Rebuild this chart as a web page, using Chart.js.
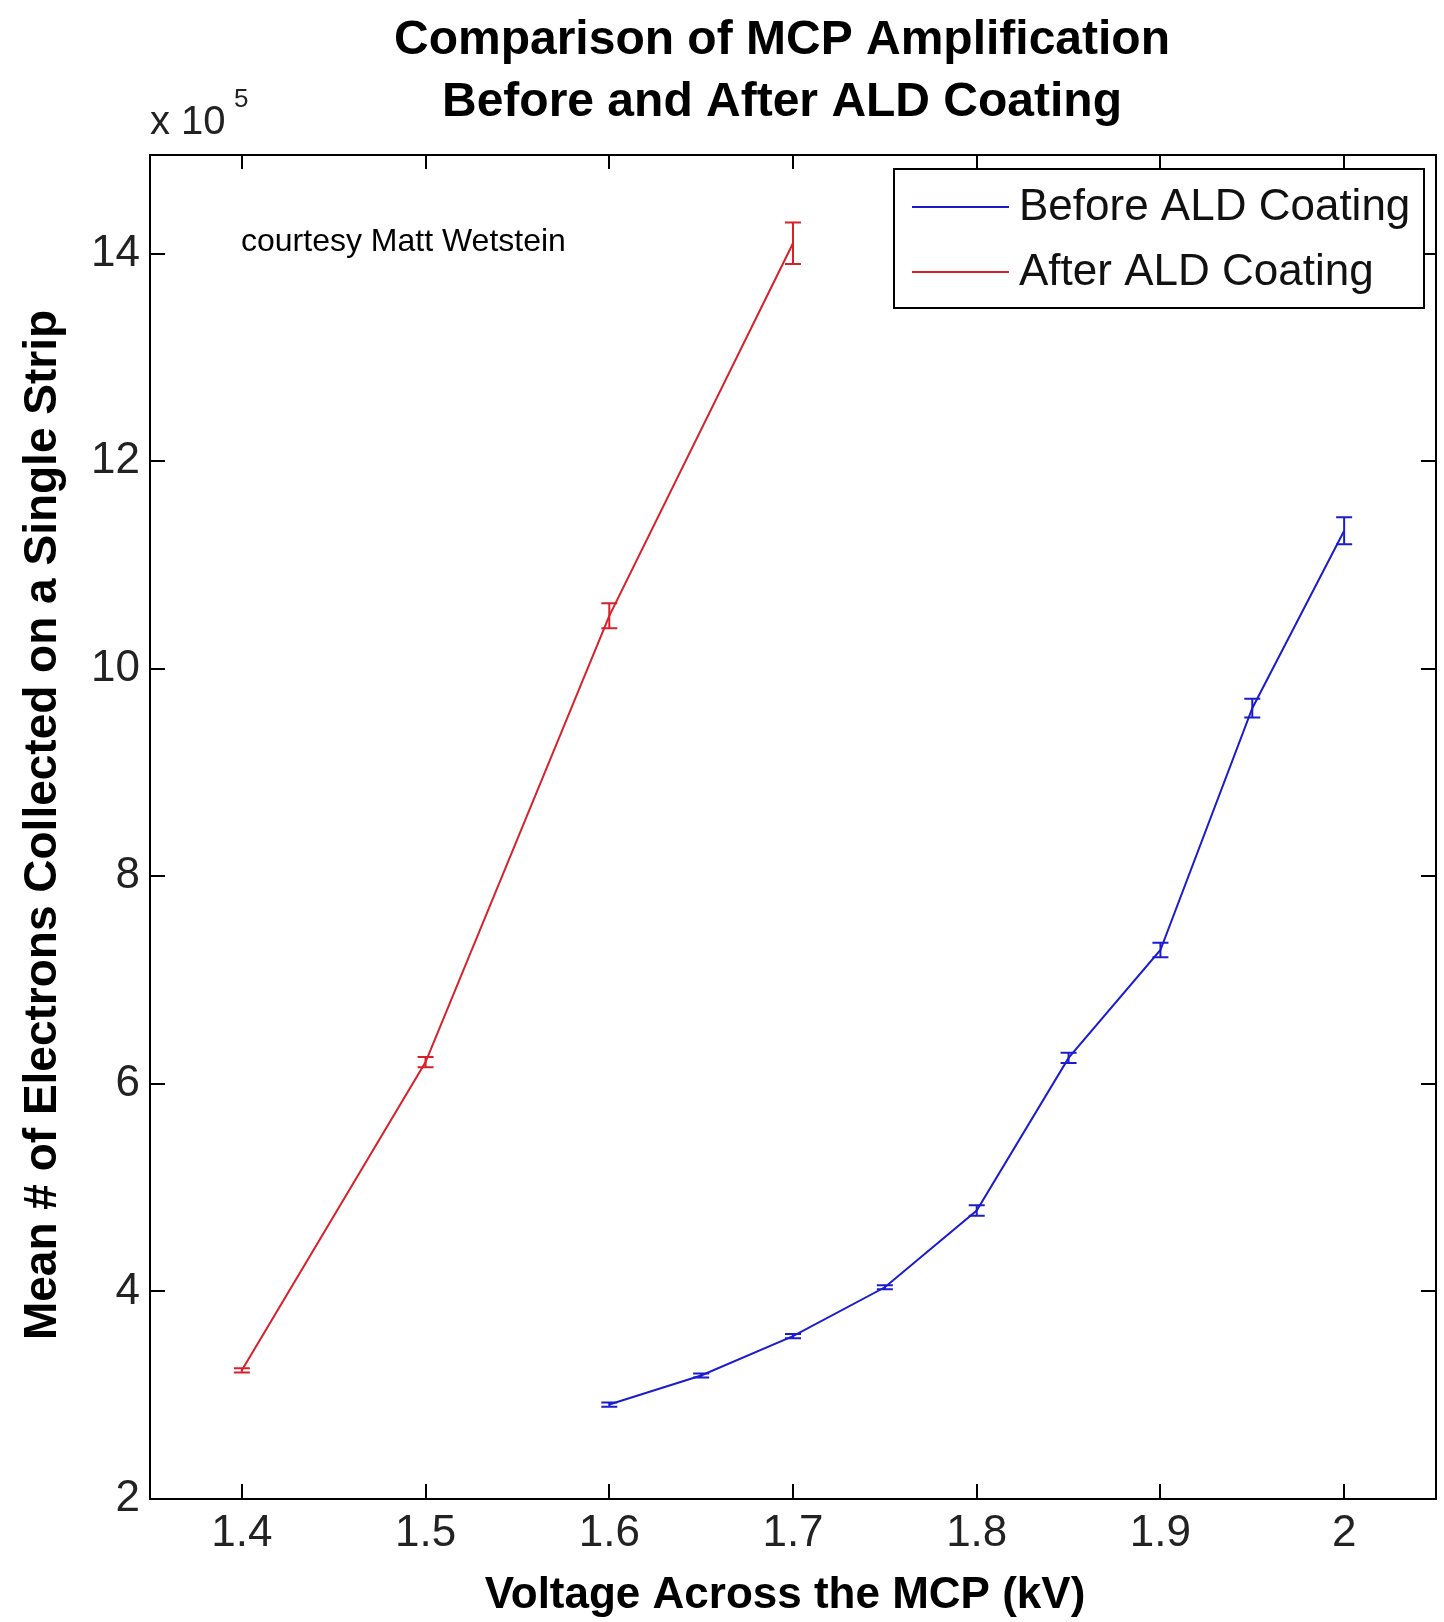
<!DOCTYPE html>
<html><head><meta charset="utf-8">
<script src="https://cdn.jsdelivr.net/npm/chart.js@4/dist/chart.umd.min.js"></script>
<style>html,body{margin:0;padding:0;background:#fff;overflow:hidden}#c{display:block}</style>
</head><body>
<canvas id="c" width="1444" height="1622"></canvas>
<script>
// ---- data ----
const xTicks = [1.4, 1.5, 1.6, 1.7, 1.8, 1.9, 2.0];
const yTicks = [2, 4, 6, 8, 10, 12, 14];
const beforeVolt = [1.6, 1.65, 1.7, 1.75, 1.8, 1.85, 1.9, 1.95, 2.0];
const beforeMean = [2.91, 3.19, 3.57, 4.04, 4.78, 6.25, 7.29, 9.62, 11.33];
const beforeErr  = [0.02, 0.02, 0.02, 0.02, 0.05, 0.05, 0.07, 0.09, 0.13];
const afterVolt = [1.4, 1.5, 1.6, 1.7];
const afterMean = [3.24, 6.21, 10.51, 14.10];
const afterErr  = [0.02, 0.05, 0.12, 0.20];
const seriesNames = ['Before ALD Coating', 'After ALD Coating'];
const titleLines = ['Comparison of MCP Amplification', 'Before and After ALD Coating'];
const xTitle = 'Voltage Across the MCP (kV)';
const yTitle = 'Mean # of Electrons Collected on a Single Strip';
const noteText = 'courtesy Matt Wetstein';
const expBase = 'x 10', expPow = '5';

const BLUE = '#1c1ccc', RED = '#d8202a';
const SANS = '"Liberation Sans", Arial, sans-serif';

const errs = [beforeErr, afterErr];

const deco = {
  id: 'deco',
  beforeDraw(chart) {
    const ctx = chart.ctx;
    ctx.save(); ctx.fillStyle = '#fff'; ctx.fillRect(0, 0, chart.width, chart.height); ctx.restore();
  },
  afterDatasetsDraw(chart) {
    const ctx = chart.ctx, a = chart.chartArea, xs = chart.scales.x, ys = chart.scales.y;
    ctx.save();
    // error bars
    chart.data.datasets.forEach((ds, i) => {
      ctx.strokeStyle = ds.borderColor; ctx.lineWidth = 2;
      ds.data.forEach((p, j) => {
        const px = xs.getPixelForValue(p.x);
        const y1 = ys.getPixelForValue(p.y - errs[i][j]);
        const y2 = ys.getPixelForValue(p.y + errs[i][j]);
        ctx.beginPath();
        ctx.moveTo(px, y1); ctx.lineTo(px, y2);
        ctx.moveTo(px - 8, y1); ctx.lineTo(px + 8, y1);
        ctx.moveTo(px - 8, y2); ctx.lineTo(px + 8, y2);
        ctx.stroke();
      });
    });
    // axes box
    ctx.strokeStyle = '#000'; ctx.lineWidth = 2;
    ctx.strokeRect(a.left, a.top, a.right - a.left, a.bottom - a.top);
    ctx.beginPath();
    xTicks.forEach(v => {
      const px = Math.round(xs.getPixelForValue(v));
      ctx.moveTo(px, a.bottom); ctx.lineTo(px, a.bottom - 15);
      ctx.moveTo(px, a.top); ctx.lineTo(px, a.top + 14);
    });
    yTicks.forEach(v => {
      const py = Math.round(ys.getPixelForValue(v));
      ctx.moveTo(a.left, py); ctx.lineTo(a.left + 15, py);
      ctx.moveTo(a.right, py); ctx.lineTo(a.right - 15, py);
    });
    ctx.stroke();

    // titles
    ctx.fillStyle = '#000';
    ctx.textAlign = 'center'; ctx.textBaseline = 'alphabetic';
    ctx.font = 'bold 48px ' + SANS;
    ctx.fillText(titleLines[0], 782, 54);
    ctx.fillText(titleLines[1], 782, 116);
    ctx.font = 'bold 44px ' + SANS; ctx.textBaseline = 'middle';
    ctx.fillText(xTitle, 785, 1596);
    ctx.save(); ctx.translate(43, 825); ctx.rotate(-Math.PI / 2);
    ctx.font = 'bold 46px ' + SANS; ctx.fillText(yTitle, 0, 0); ctx.restore();

    // exponent
    ctx.fillStyle = '#222'; ctx.textAlign = 'left'; ctx.textBaseline = 'alphabetic';
    ctx.font = '40px ' + SANS; ctx.fillText(expBase, 150, 134);
    ctx.font = '26px ' + SANS; ctx.fillText(expPow, 234, 107);

    // note
    ctx.fillStyle = '#000'; ctx.font = '32px ' + SANS; ctx.textBaseline = 'middle';
    ctx.fillText(noteText, 241, 242);

    // legend
    ctx.fillStyle = '#fff'; ctx.fillRect(894, 169, 530, 139);
    ctx.strokeStyle = '#000'; ctx.lineWidth = 2; ctx.strokeRect(894, 169, 530, 139);
    const ly = [207, 272];
    chart.data.datasets.forEach((ds, i) => {
      ctx.strokeStyle = ds.borderColor; ctx.lineWidth = 2;
      ctx.beginPath(); ctx.moveTo(912, ly[i]); ctx.lineTo(1009, ly[i]); ctx.stroke();
      ctx.fillStyle = '#111'; ctx.font = '44px ' + SANS; ctx.textBaseline = 'middle';
      ctx.fillText(ds.label, 1019, ly[i] + 1);
    });
    ctx.restore();
  }
};

new Chart(document.getElementById('c'), {
  type: 'line',
  data: {
    datasets: [
      { label: seriesNames[0], data: beforeVolt.map((v, i) => ({ x: v, y: beforeMean[i] })),
        borderColor: BLUE, backgroundColor: BLUE, borderWidth: 2, pointRadius: 0, tension: 0, fill: false },
      { label: seriesNames[1], data: afterVolt.map((v, i) => ({ x: v, y: afterMean[i] })),
        borderColor: RED, backgroundColor: RED, borderWidth: 2, pointRadius: 0, tension: 0, fill: false }
    ]
  },
  options: {
    responsive: false, animation: false, devicePixelRatio: 1,
    layout: { padding: { top: 155, left: 0, right: 8, bottom: 0 } },
    plugins: { legend: { display: false }, title: { display: false }, tooltip: { enabled: false } },
    scales: {
      x: {
        type: 'linear', min: 1.35, max: 2.05,
        afterBuildTicks: s => { s.ticks = xTicks.map(v => ({ value: v })); },
        afterFit: s => { s.height = 123; },
        grid: { display: false, drawTicks: false }, border: { display: false },
        ticks: { autoSkip: false, maxRotation: 0, padding: 8, color: '#222',
          font: { family: SANS, size: 44 }, callback: v => String(Number(Number(v).toFixed(2))) }
      },
      y: {
        type: 'linear', min: 2, max: 14.95,
        afterBuildTicks: s => { s.ticks = yTicks.map(v => ({ value: v })); },
        afterFit: s => { s.width = 150; },
        grid: { display: false, drawTicks: false }, border: { display: false },
        ticks: { autoSkip: false, padding: 10, color: '#222',
          font: { family: SANS, size: 44 }, callback: v => String(v) }
      }
    }
  },
  plugins: [deco]
});
</script>
</body></html>
